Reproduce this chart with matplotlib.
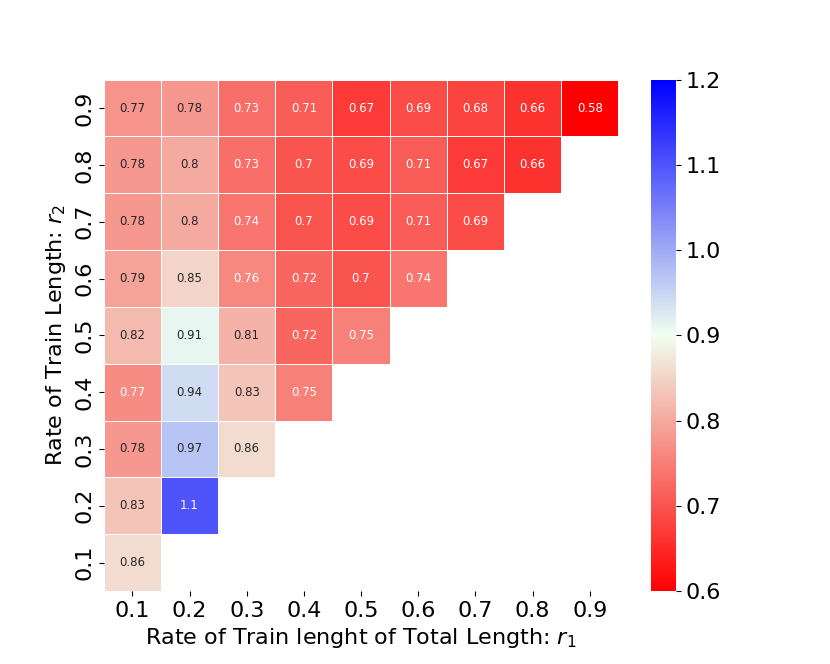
import numpy as np
import pandas as pd
import seaborn as sns
import matplotlib.pyplot as plt
from matplotlib.colors import LinearSegmentedColormap

# r1 along columns, r2 along rows (top row is r2 = 0.9)
r1_labels = ["0.1", "0.2", "0.3", "0.4", "0.5", "0.6", "0.7", "0.8", "0.9"]
r2_labels = ["0.9", "0.8", "0.7", "0.6", "0.5", "0.4", "0.3", "0.2", "0.1"]

row_09 = [0.774, 0.78, 0.73, 0.71, 0.67, 0.69, 0.68, 0.66, 0.58]
row_08 = [0.78, 0.80, 0.73, 0.70, 0.69, 0.71, 0.67, 0.66]
row_07 = [0.78, 0.80, 0.74, 0.70, 0.69, 0.71, 0.69]
row_06 = [0.79, 0.85, 0.76, 0.72, 0.70, 0.74]
row_05 = [0.82, 0.91, 0.81, 0.72, 0.75]
row_04 = [0.766, 0.94, 0.83, 0.75]
row_03 = [0.78, 0.97, 0.86]
row_02 = [0.83, 1.1]
row_01 = [0.86]

rows = [row_09, row_08, row_07, row_06, row_05, row_04, row_03, row_02, row_01]
data = np.full((9, 9), np.nan)
for i, r in enumerate(rows):
    data[i, :len(r)] = r
df = pd.DataFrame(data, index=r2_labels, columns=r1_labels)

cmap = LinearSegmentedColormap.from_list("rgb", ["red", "honeydew", "blue"])

fig, ax = plt.subplots(figsize=(8.3, 6.64), dpi=100)
sns.heatmap(df, ax=ax, cmap=cmap, vmin=0.6, vmax=1.2, annot=True, fmt=".2g",
            annot_kws={"size": 8.5}, linewidths=0.5, linecolor="white")
ax.set_xticklabels(r1_labels, fontsize=16, rotation=0)
ax.set_yticklabels(r2_labels, fontsize=16, rotation=90, va="center")
ax.set_xlabel("Rate of Train lenght of Total Length: $r_1$", fontsize=16)
ax.set_ylabel("Rate of Train Length: $r_2$", fontsize=16)
cbar = ax.collections[0].colorbar
cbar.ax.tick_params(labelsize=16)
plt.savefig("out.png", dpi=100)
